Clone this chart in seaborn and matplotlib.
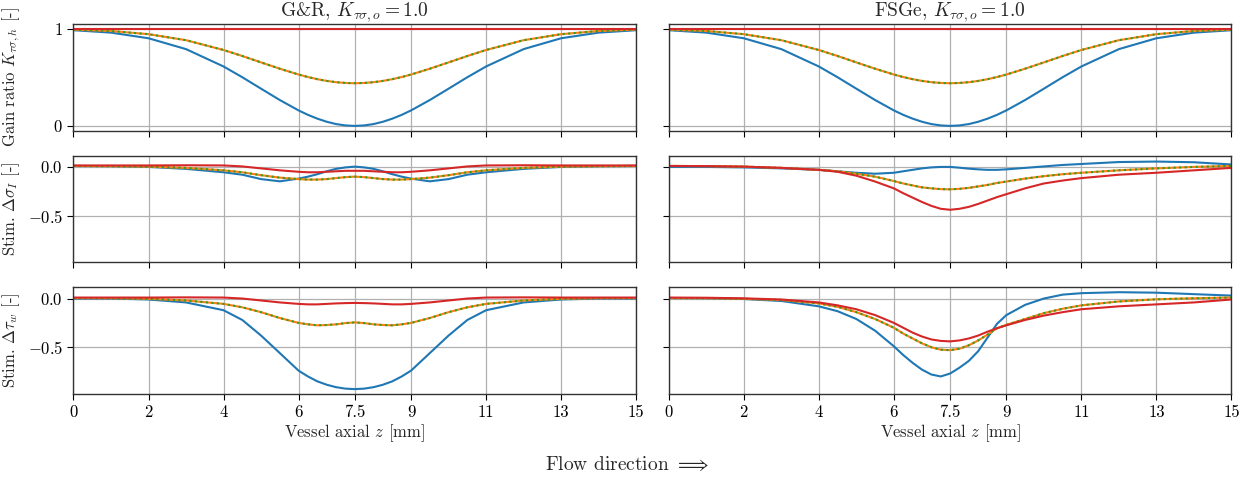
import numpy as np
import matplotlib
matplotlib.use("Agg")
import matplotlib.pyplot as plt
import seaborn as sns

# axial positions [mm]
z = [0, 1, 2, 3, 4, 4.5, 5, 5.5, 6, 6.25, 6.5, 6.75, 7, 7.25, 7.5,
     7.75, 8, 8.25, 8.5, 8.75, 9, 9.5, 10, 10.5, 11, 12, 13, 14, 15]

# row 1: gain ratio (same for both models)
gain_blue = [0.987, 0.962, 0.904, 0.792, 0.613, 0.502, 0.384, 0.267, 0.160, 0.114, 0.075, 0.043, 0.019, 0.005, 0.0,
             0.005, 0.019, 0.043, 0.075, 0.114, 0.160, 0.267, 0.384, 0.502, 0.613, 0.792, 0.904, 0.962, 0.987]
gain_orange = [0.993, 0.979, 0.946, 0.884, 0.783, 0.721, 0.655, 0.590, 0.530, 0.504, 0.482, 0.464, 0.451, 0.443, 0.440,
               0.443, 0.451, 0.464, 0.482, 0.504, 0.530, 0.590, 0.655, 0.721, 0.783, 0.884, 0.946, 0.979, 0.993]
gain_red = [1.0] * len(z)

# row 2: stimulus intramural stress, G&R
sig_gr_blue = [0.01, 0.008, 0.0, -0.02, -0.055, -0.08, -0.125, -0.148, -0.12, -0.10, -0.075, -0.045, -0.02, -0.005, 0.003,
               -0.005, -0.02, -0.045, -0.075, -0.10, -0.12, -0.148, -0.125, -0.08, -0.055, -0.02, 0.0, 0.008, 0.01]
sig_gr_orange = [0.01, 0.008, 0.003, -0.01, -0.035, -0.055, -0.085, -0.11, -0.125, -0.13, -0.13, -0.125, -0.115, -0.105, -0.10,
                 -0.105, -0.115, -0.125, -0.13, -0.13, -0.125, -0.11, -0.085, -0.055, -0.035, -0.01, 0.003, 0.008, 0.01]
sig_gr_red = [0.015, 0.015, 0.015, 0.017, 0.015, 0.005, -0.015, -0.035, -0.05, -0.055, -0.055, -0.05, -0.045, -0.04, -0.04,
              -0.04, -0.045, -0.05, -0.055, -0.055, -0.05, -0.035, -0.015, 0.005, 0.015, 0.017, 0.015, 0.015, 0.015]

# row 2: stimulus intramural stress, FSGe
sig_fsg_blue = [0.0, 0.0, -0.005, -0.015, -0.03, -0.045, -0.06, -0.07, -0.06, -0.045, -0.03, -0.015, -0.005, 0.0, 0.0,
                -0.008, -0.018, -0.025, -0.03, -0.03, -0.025, -0.01, 0.005, 0.02, 0.03, 0.05, 0.055, 0.048, 0.025]
sig_fsg_orange = [0.01, 0.008, 0.003, -0.01, -0.03, -0.045, -0.07, -0.10, -0.145, -0.17, -0.19, -0.21, -0.22, -0.228, -0.23,
                  -0.225, -0.215, -0.2, -0.185, -0.165, -0.15, -0.12, -0.095, -0.075, -0.06, -0.035, -0.015, 0.0, 0.01]
sig_fsg_red = [0.01, 0.008, 0.003, -0.01, -0.03, -0.05, -0.09, -0.15, -0.22, -0.27, -0.315, -0.36, -0.40, -0.43, -0.44,
               -0.43, -0.41, -0.38, -0.345, -0.31, -0.28, -0.22, -0.17, -0.14, -0.115, -0.08, -0.06, -0.035, -0.01]

# row 3: stimulus wall shear stress, G&R
tau_gr_blue = [0.0, 0.0, -0.01, -0.04, -0.12, -0.22, -0.38, -0.56, -0.74, -0.80, -0.85, -0.885, -0.91, -0.925, -0.93,
               -0.925, -0.91, -0.885, -0.85, -0.80, -0.74, -0.56, -0.38, -0.22, -0.12, -0.04, -0.01, 0.0, 0.0]
tau_gr_orange = [0.005, 0.004, -0.003, -0.02, -0.055, -0.09, -0.14, -0.20, -0.25, -0.265, -0.275, -0.272, -0.265, -0.252, -0.245,
                 -0.252, -0.265, -0.272, -0.275, -0.265, -0.25, -0.20, -0.14, -0.09, -0.055, -0.02, -0.003, 0.004, 0.005]
tau_gr_red = [0.01, 0.01, 0.01, 0.012, 0.01, 0.0, -0.02, -0.04, -0.055, -0.06, -0.06, -0.055, -0.05, -0.047, -0.045,
              -0.047, -0.05, -0.055, -0.06, -0.06, -0.055, -0.04, -0.02, 0.0, 0.01, 0.012, 0.01, 0.01, 0.01]

# row 3: stimulus wall shear stress, FSGe
tau_fsg_blue = [0.005, 0.003, -0.005, -0.025, -0.08, -0.13, -0.21, -0.33, -0.49, -0.58, -0.66, -0.73, -0.78, -0.80, -0.77,
                -0.71, -0.64, -0.54, -0.40, -0.26, -0.17, -0.065, 0.0, 0.04, 0.055, 0.065, 0.06, 0.045, 0.03]
tau_fsg_orange = [0.005, 0.004, -0.003, -0.015, -0.05, -0.085, -0.14, -0.21, -0.30, -0.36, -0.41, -0.46, -0.50, -0.525, -0.53,
                  -0.515, -0.48, -0.43, -0.37, -0.305, -0.27, -0.21, -0.15, -0.105, -0.07, -0.03, -0.008, 0.003, 0.01]
tau_fsg_red = [0.01, 0.008, 0.002, -0.01, -0.04, -0.07, -0.11, -0.17, -0.25, -0.30, -0.35, -0.39, -0.42, -0.435, -0.44,
               -0.43, -0.41, -0.38, -0.34, -0.305, -0.275, -0.22, -0.175, -0.14, -0.11, -0.08, -0.06, -0.04, -0.01]

titles = [r"G&R, $K_{\tau\sigma,o} = 1.0$", r"FSGe, $K_{\tau\sigma,o} = 1.0$"]
ylabels = [r"Gain ratio $K_{\tau\sigma,h}$ [-]", r"Stim. $\Delta\sigma_I$ [-]", r"Stim. $\Delta\tau_w$ [-]"]
xticks = [0, 2, 4, 6, 7.5, 9, 11, 13, 15]
xticklabels = ["0", "2", "4", "6", "7.5", "9", "11", "13", "15"]

# panels[row][col] = (blue, orange, red); green dotted repeats orange
panels = [
    [(gain_blue, gain_orange, gain_red), (gain_blue, gain_orange, gain_red)],
    [(sig_gr_blue, sig_gr_orange, sig_gr_red), (sig_fsg_blue, sig_fsg_orange, sig_fsg_red)],
    [(tau_gr_blue, tau_gr_orange, tau_gr_red), (tau_fsg_blue, tau_fsg_orange, tau_fsg_red)],
]

sns.set_style("ticks")
plt.rcParams["font.family"] = ["cmr10", "DejaVu Serif"]
plt.rcParams["mathtext.fontset"] = "cm"
plt.rcParams["axes.formatter.use_mathtext"] = True
plt.rcParams["axes.unicode_minus"] = True

fig, axes = plt.subplots(3, 2, figsize=(12.54, 4.82), dpi=100, sharex=True)
fig.subplots_adjust(left=0.0586, right=0.982, top=0.950, bottom=0.1826,
                    wspace=0.058, hspace=0.234)

for r in range(3):
    for c in range(2):
        ax = axes[r, c]
        blue, orange, red = panels[r][c]
        sns.lineplot(x=z, y=blue, ax=ax, color="tab:blue", lw=1.5)
        sns.lineplot(x=z, y=orange, ax=ax, color="tab:orange", lw=1.5)
        sns.lineplot(x=z, y=orange, ax=ax, color="tab:green", lw=1.5, linestyle=":")
        sns.lineplot(x=z, y=red, ax=ax, color="tab:red", lw=1.5)
        ax.set_xlim(0, 15)
        ax.set_xticks(xticks)
        ax.grid(True, color="#b0b0b0", lw=0.9)
        ax.tick_params(labelsize=12, direction="out", length=4, width=0.8, colors="black")
        for sp in ax.spines.values():
            sp.set_visible(True)
            sp.set_color("#333333")
            sp.set_linewidth(1.0)
        if r == 0:
            ax.set_ylim(-0.05, 1.05)
            ax.set_yticks([0, 1])
            ax.set_title(titles[c], fontsize=14, pad=4)
        else:
            ax.set_ylim(-0.98, 0.115)
            ax.set_yticks([-0.5, 0.0])
            ax.set_yticklabels(["$-0.5$", "$0.0$"])
        if c == 0:
            ax.set_ylabel(ylabels[r], fontsize=12)
        else:
            ax.set_yticklabels([])
            ax.set_ylabel("")
        if r == 2:
            ax.set_xticklabels(xticklabels)
            ax.set_xlabel(r"Vessel axial $z$ [mm]", fontsize=12, labelpad=2)
        else:
            ax.tick_params(labelbottom=False)

fig.align_ylabels(axes[:, 0])
fig.text(0.5, 1 - 465 / 482, r"Flow direction $\Longrightarrow$", ha="center", va="center", fontsize=14)

fig.savefig("out.png", dpi=100)
